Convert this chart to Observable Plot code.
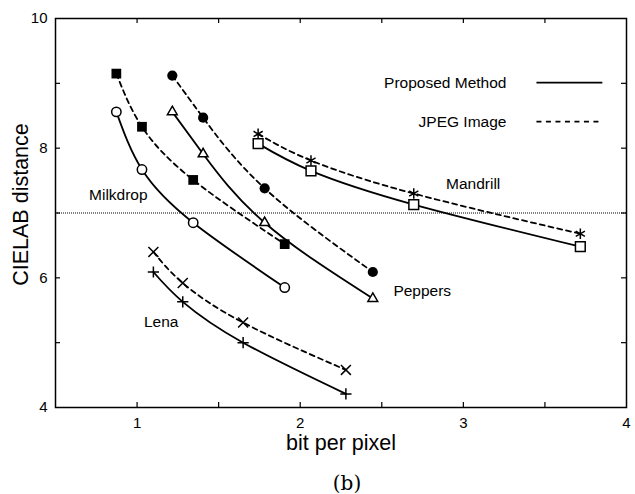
<!DOCTYPE html>
<html>
<head>
<meta charset="utf-8">
<script src="https://cdn.jsdelivr.net/npm/d3@7"></script>
<script src="https://cdn.jsdelivr.net/npm/@observablehq/plot@0.6"></script>
<style>
  html, body { margin: 0; padding: 0; background: #fff; }
  #chart svg { display: block; }
  #caption { width: 635px; box-sizing: border-box; padding-left: 59px; text-align: center;
    font-family: "DejaVu Serif", "Liberation Serif", serif; font-size: 20px; line-height: 30px; padding-top: 4px; color: #000; }
</style>
</head>
<body>
<div id="chart"></div>
<div id="caption">(b)</div>
<script>
// ---- data ----
const xTickVals = [1, 1.5, 2, 2.5, 3, 3.5];
const xLabelVals = [1, 2, 3, 4];
const yTickVals = [5, 6, 7, 8, 9];
const yLabelVals = [4, 6, 8, 10];
const threshold = [7];

const milkdropX = [0.873, 1.03, 1.344, 1.905];
const milkdropJPEG = [9.15, 8.33, 7.51, 6.52];
const milkdropProposed = [8.56, 7.67, 6.85, 5.85];

const peppersX = [1.216, 1.405, 1.782, 2.445];
const peppersJPEG = [9.12, 8.47, 7.38, 6.09];
const peppersProposed = [8.56, 7.91, 6.85, 5.68];

const mandrillX = [1.742, 2.066, 2.696, 3.717];
const mandrillJPEG = [8.22, 7.81, 7.30, 6.68];
const mandrillProposed = [8.07, 7.65, 7.13, 6.48];

const lenaX = [1.10, 1.28, 1.65, 2.28];
const lenaJPEG = [6.40, 5.92, 5.31, 4.58];
const lenaProposed = [6.09, 5.63, 5.00, 4.21];

const imageNames = ["Milkdrop", "Peppers", "Mandrill", "Lena"];
const imageLabelX = [0.885, 2.748, 3.06, 1.148];
const imageLabelY = [7.27, 5.80, 7.45, 5.32];

const legendLabels = ["Proposed Method", "JPEG Image"];
const legendTextX = [3.264, 3.264];
const legendY = [9.01, 8.41];
const legendLineX1 = [3.448, 3.448];
const legendLineX2 = [3.852, 3.852];

const xTitle = "bit per pixel";
const yTitle = "CIELAB distance";

// ---- build tables ----
const series = [
  {image: "Milkdrop", method: "JPEG", xs: milkdropX, ys: milkdropJPEG, symbol: "square", fill: "black", stroke: "none", r: 5.5},
  {image: "Milkdrop", method: "Proposed", xs: milkdropX, ys: milkdropProposed, symbol: "circle", fill: "white", stroke: "black", r: 4.7},
  {image: "Peppers", method: "JPEG", xs: peppersX, ys: peppersJPEG, symbol: "circle", fill: "black", stroke: "none", r: 5.1},
  {image: "Peppers", method: "Proposed", xs: peppersX, ys: peppersProposed, symbol: "triangle2", fill: "white", stroke: "black", r: 4.7},
  {image: "Mandrill", method: "JPEG", xs: mandrillX, ys: mandrillJPEG, symbol: "asterisk", fill: "none", stroke: "black", r: 5.0},
  {image: "Mandrill", method: "Proposed", xs: mandrillX, ys: mandrillProposed, symbol: "square", fill: "white", stroke: "black", r: 5.5},
  {image: "Lena", method: "JPEG", xs: lenaX, ys: lenaJPEG, symbol: "times", fill: "none", stroke: "black", r: 4.6},
  {image: "Lena", method: "Proposed", xs: lenaX, ys: lenaProposed, symbol: "plus", fill: "none", stroke: "black", r: 3.7}
];
const rows = series.flatMap(s => s.xs.map((x, i) => ({image: s.image, method: s.method, x, y: s.ys[i]})));

const imageLabels = imageNames.map((name, i) => ({name, x: imageLabelX[i], y: imageLabelY[i]}));
const legend = legendLabels.map((label, i) => ({label, tx: legendTextX[i], y: legendY[i], x1: legendLineX1[i], x2: legendLineX2[i], dash: i === 1}));

const font = "'Liberation Sans', Arial, Helvetica, sans-serif";
const width = 635, height = 464;
const mT = 18, mR = 9, mB = 57, mL = 55;
const frameH = height - mT - mB, frameW = width - mL - mR;
const tick = 5;

const chart = Plot.plot({
  width, height,
  marginTop: mT, marginRight: mR, marginBottom: mB, marginLeft: mL,
  style: {fontFamily: font, background: "white", color: "black"},
  x: {domain: [0.5, 4], label: null},
  y: {domain: [4, 10], label: null},
  marks: [
    Plot.ruleY(threshold, {stroke: "black", strokeWidth: 1, strokeDasharray: "1,1"}),
    // inward ticks
    Plot.tickX(xTickVals, {x: d => d, insetTop: frameH - tick, stroke: "black", strokeWidth: 1.2}),
    Plot.tickX(xTickVals, {x: d => d, insetBottom: frameH - tick, stroke: "black", strokeWidth: 1.2}),
    Plot.tickY(yTickVals, {y: d => d, insetRight: frameW - tick, stroke: "black", strokeWidth: 1.2}),
    Plot.tickY(yTickVals, {y: d => d, insetLeft: frameW - tick, stroke: "black", strokeWidth: 1.2}),
    Plot.axisX({ticks: xLabelVals, tickSize: 0, tickPadding: 10, label: null, fontSize: 15, tickFormat: d => String(d)}),
    Plot.axisY({ticks: yLabelVals, tickSize: 0, tickPadding: 8, label: null, fontSize: 15, tickFormat: d => String(d)}),
    // curves
    Plot.line(rows.filter(d => d.method === "Proposed"), {x: "x", y: "y", z: "image", curve: "natural", stroke: "black", strokeWidth: 1.8}),
    Plot.line(rows.filter(d => d.method === "JPEG"), {x: "x", y: "y", z: "image", curve: "natural", stroke: "black", strokeWidth: 1.8, strokeDasharray: "5,4"}),
    // markers
    ...series.map(s => Plot.dot(rows.filter(d => d.image === s.image && d.method === s.method), {
      x: "x", y: "y", symbol: s.symbol, r: s.r, fill: s.fill, stroke: s.stroke, strokeWidth: 1.5
    })),
    // image labels
    Plot.text(imageLabels, {x: "x", y: "y", text: "name", fontSize: 15.5, fill: "black"}),
    // legend
    Plot.text(legend, {x: "tx", y: "y", text: "label", textAnchor: "end", fontSize: 15.5, fill: "black"}),
    Plot.link(legend.filter(d => !d.dash), {x1: "x1", x2: "x2", y1: "y", y2: "y", stroke: "black", strokeWidth: 1.8}),
    Plot.link(legend.filter(d => d.dash), {x1: "x1", x2: "x2", y1: "y", y2: "y", stroke: "black", strokeWidth: 1.8, strokeDasharray: "5,4.5"}),
    // axis titles
    Plot.text([xTitle], {frameAnchor: "bottom", lineAnchor: "middle", textAnchor: "middle", dy: 36, fontSize: 21.5, fill: "black"}),
    Plot.text([yTitle], {frameAnchor: "left", lineAnchor: "middle", textAnchor: "middle", rotate: -90, dx: -34, dy: -8.5, fontSize: 21.5, fill: "black"}),
    Plot.frame({stroke: "black", strokeWidth: 1.5})
  ]
});
document.getElementById("chart").appendChild(chart);
</script>
</body>
</html>
